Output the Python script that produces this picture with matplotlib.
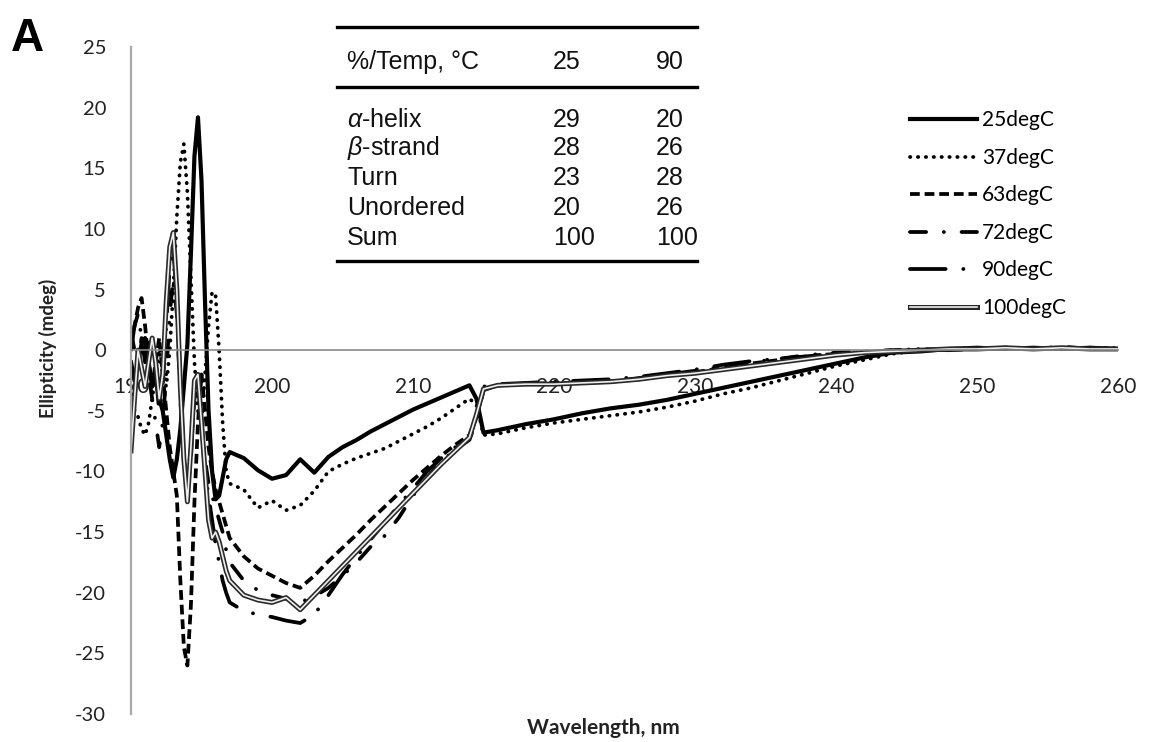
import matplotlib
matplotlib.use("Agg")
import matplotlib.pyplot as plt
import matplotlib.patheffects as pe
from matplotlib.lines import Line2D

plt.rcParams['mathtext.fontset'] = 'custom'
plt.rcParams['mathtext.rm'] = 'Liberation Sans'
plt.rcParams['mathtext.it'] = 'Liberation Sans:italic'
plt.rcParams['axes.unicode_minus'] = False

# wavelength grid (nm), fine near the noisy far-UV end
wavelength = [190, 190.25, 190.5, 190.75, 191, 191.25, 191.5, 191.75,
              192, 192.25, 192.5, 192.75, 193, 193.25, 193.5, 193.75,
              194, 194.25, 194.5, 194.75, 195, 195.25, 195.5, 195.75,
              196, 196.25, 196.5, 196.75, 197,
              198, 199, 200, 201, 202, 203, 204, 205, 206, 207, 208, 209, 210, 211, 212, 213, 214,
              214.5, 215, 216,
              218, 220, 222, 224, 226, 228, 230, 232, 234, 236, 238, 240,
              242, 244, 246, 248, 250, 252, 254, 256, 258, 260]

# ellipticity (mdeg) per temperature
cd_25 = [-1.0, -2.5, -1.0, 0.5, 1.0, -1.0, -3.0, -2.0,
         -4.0, -5.0, -7.0, -9.0, -10.5, -9.0, -6.5, -3.0,
         0.5, 8.0, 16.0, 19.2, 14.0, 4.0, -5.0, -10.0,
         -12.3, -12.0, -10.5, -9.0, -8.4,
         -8.9, -9.9, -10.6, -10.3, -9.0, -10.1, -8.8, -8.0, -7.4, -6.7, -6.1, -5.5, -4.9, -4.4, -3.9, -3.4, -2.9,
         -4.0, -6.8, -6.6,
         -6.1, -5.7, -5.2, -4.8, -4.5, -4.1, -3.6, -3.1, -2.6, -2.1, -1.6, -1.1,
         -0.6, -0.2, -0.1, 0.1, 0.2, 0.1, 0.2, 0.1, 0.2, 0.1]
cd_37 = [-3.0, -5.0, -5.5, -6.5, -7.0, -6.0, -4.0, -2.0,
         0.0, -2.0, -3.0, 0.0, 5.0, 11.0, 15.5, 17.0,
         13.0, 6.0, -1.0, -5.0, -6.0, -2.0, 2.0, 4.8,
         4.5, 0.0, -6.0, -10.0, -11.0,
         -11.5, -13.0, -12.4, -13.2, -12.8, -11.6, -10.0, -9.4, -8.9, -8.5, -8.1, -7.5, -6.9, -6.3, -5.6, -4.8, -4.0,
         -4.5, -7.0, -6.9,
         -6.4, -6.0, -5.7, -5.4, -5.1, -4.7, -4.2, -3.6, -3.1, -2.5, -1.9, -1.3,
         -0.8, -0.3, 0.0, 0.1, 0.2, 0.1, 0.1, 0.2, 0.1, 0.2]
cd_63 = [0.5, 2.0, 3.5, 4.3, 2.0, -1.0, -3.0, -1.0,
         1.0, -2.0, -5.0, -8.0, -10.0, -12.0, -19.0, -24.5,
         -26.0, -21.0, -12.5, -6.0, -2.0, -5.0, -8.0, -10.0,
         -11.5, -12.5, -13.5, -14.5, -15.5,
         -17.0, -18.0, -18.6, -19.2, -19.6, -18.6, -17.4, -16.3, -15.2, -14.0, -12.9, -11.8, -10.7, -9.7, -8.7, -7.8, -7.0,
         -5.5, -3.2, -2.9,
         -2.8, -2.7, -2.7, -2.6, -2.4, -2.1, -1.8, -1.5, -1.1, -0.8, -0.5, -0.3,
         -0.2, -0.1, 0.0, 0.1, 0.1, 0.2, 0.1, 0.1, 0.2, 0.1]
cd_72 = [1.5, 0.0, -1.0, 1.0, 0.5, -2.0, -4.0, -6.0,
         -8.0, -6.0, -2.0, 3.0, 6.0, 3.0, -4.0, -9.0,
         -11.0, -8.0, -4.0, -3.0, -6.0, -9.0, -11.0, -12.0,
         -13.0, -14.0, -15.0, -16.5, -17.5,
         -19.0, -19.8, -20.2, -20.5, -20.8, -20.3, -19.6, -18.6, -17.5, -16.2, -15.3, -13.8, -12.0, -10.5, -9.2, -8.2, -7.4,
         -5.8, -3.3, -2.9,
         -2.8, -2.8, -2.7, -2.6, -2.3, -2.0, -1.7, -1.4, -1.0, -0.7, -0.4, -0.2,
         -0.1, 0.0, 0.1, 0.1, 0.2, 0.1, 0.2, 0.1, 0.1, 0.2]
cd_90 = [0.0, 2.0, 3.0, 1.0, -1.0, 0.5, 1.0, -2.0,
         -5.0, -3.0, 2.0, 7.0, 8.5, 4.0, -3.0, -9.0,
         -12.0, -9.0, -3.0, -2.0, -6.0, -10.0, -12.0, -14.0,
         -16.0, -17.5, -19.0, -20.0, -20.8,
         -21.5, -21.8, -22.0, -22.3, -22.5, -21.8, -20.2, -18.5, -17.0, -15.6, -14.2, -12.8, -11.4, -10.0, -8.9, -8.0, -7.2,
         -5.5, -3.0, -2.8,
         -2.7, -2.6, -2.5, -2.4, -2.2, -1.9, -1.6, -1.2, -0.9, -0.7, -0.5, -0.3,
         -0.2, 0.0, 0.1, 0.0, 0.1, 0.2, 0.1, 0.3, 0.1, 0.1]
cd_100 = [-8.3, -4.0, 0.0, -1.5, -3.0, -1.0, 1.0, -1.0,
          -4.0, -2.0, 4.0, 8.5, 9.7, 5.0, -3.0, -9.0,
          -12.5, -8.0, -2.5, -2.0, -6.0, -10.0, -14.0, -15.5,
          -15.0, -15.8, -17.0, -18.2, -19.0,
          -20.2, -20.6, -20.8, -20.4, -21.4, -20.2, -19.0, -17.8, -16.6, -15.4, -14.2, -13.0, -11.8, -10.6, -9.4, -8.3, -7.2,
          -5.3, -3.2, -2.9,
          -2.8, -2.8, -2.7, -2.6, -2.4, -2.1, -1.9, -1.6, -1.3, -1.0, -0.7, -0.4,
          -0.2, -0.1, 0.0, 0.1, 0.1, 0.2, 0.1, 0.2, 0.1, 0.1]

series_labels = ['25degC', '37degC', '63degC', '72degC', '90degC', '100degC']

# inset table (secondary structure, %)
table_header = ['%/Temp, °C', '25', '90']
table_rows = [r'$\alpha$-helix', r'$\beta$-strand', 'Turn', 'Unordered', 'Sum']
table_25 = ['29', '28', '23', '20', '100']
table_90 = ['20', '26', '28', '26', '100']

W, H = 1163, 742
fx = lambda x: x / W
fy = lambda y: 1 - y / H

fig = plt.figure(figsize=(W / 100, H / 100), dpi=100)
ax = fig.add_axes([fx(131), fy(714), (1118 - 131) / W, (714 - 47) / H])

lw = 2.7
ax.plot(wavelength, cd_25, color='black', lw=3.0, label=series_labels[0])
ax.plot(wavelength, cd_37, color='black', lw=lw, ls=(0, (0.1, 2.0)),
        dash_capstyle='round', label=series_labels[1])
ax.plot(wavelength, cd_63, color='black', lw=lw, ls=(0, (2.6, 1.3)), label=series_labels[2])
ax.plot(wavelength, cd_72, color='black', lw=lw, ls=(0, (4.3, 4.7, 0.05, 4.7)),
        dash_capstyle='round', label=series_labels[3])
ax.plot(wavelength, cd_90, color='black', lw=lw, ls=(0, (9.5, 4.7, 0.05, 4.7)),
        dash_capstyle='round', label=series_labels[4])
ax.plot(wavelength, cd_100, color='#f0f0f0', lw=1.2, label=series_labels[5],
        path_effects=[pe.Stroke(linewidth=3.6, foreground='#2a2a2a'), pe.Normal()])

ax.set_xlim(190, 260)
ax.set_ylim(-30, 25)
ax.set_xticks(range(190, 261, 10))
ax.set_yticks(range(-30, 26, 5))
ax.set_axisbelow(True)
for s in ['top', 'right']:
    ax.spines[s].set_visible(False)
ax.spines['bottom'].set_position(('data', 0))
ax.spines['bottom'].set_color('#8a8a8a')
ax.spines['bottom'].set_linewidth(1.2)
ax.spines['left'].set_color('#a8a8a8')
ax.spines['left'].set_linewidth(1.6)
ax.tick_params(length=0, colors='#222222')
ax.tick_params(axis='x', pad=19)
ax.tick_params(axis='y', pad=18)
for t in ax.get_xticklabels():
    t.set_fontfamily('Lato')
    t.set_fontsize(15)
for t in ax.get_yticklabels():
    t.set_fontfamily('Lato')
    t.set_fontsize(14.5)

fig.text(fx(603), fy(728), 'Wavelength, nm', ha='center', va='center',
         fontsize=15, fontweight='bold', family='Lato', color='#222222')
fig.text(fx(48), fy(348), 'Ellipticity (mdeg)', ha='center', va='center', rotation=90,
         fontsize=13.5, fontweight='bold', family='Lato', color='#222222')
fig.text(fx(27), fy(39), 'A', ha='center', va='center', fontsize=33,
         fontweight='bold', family='Liberation Sans')

ax.legend(loc='upper left', bbox_to_anchor=(fx(900), fy(100)), bbox_transform=fig.transFigure,
          frameon=False, prop={'family': 'Lato', 'size': 15}, handlelength=3.2,
          handletextpad=0.25, labelspacing=0.84, borderpad=0)

# inset table
tx0, tx1 = 337, 697
for y in [27, 87, 261]:
    fig.add_artist(Line2D([fx(tx0), fx(tx1)], [fy(y), fy(y)], transform=fig.transFigure,
                          color='black', lw=2.4))
tprops = dict(fontsize=18, family='Liberation Sans', va='center', color='#111111')
fig.text(fx(347), fy(62), table_header[0], ha='left', **tprops)
fig.text(fx(553), fy(62), table_header[1], ha='left', **tprops)
fig.text(fx(656), fy(62), table_header[2], ha='left', **tprops)
row_y = [120, 148, 178, 208, 238]
for name, a, b, y in zip(table_rows, table_25, table_90, row_y):
    fig.text(fx(347), fy(y), name, ha='left', **tprops)
    fig.text(fx(553), fy(y), a, ha='left', **tprops)
    fig.text(fx(656), fy(y), b, ha='left', **tprops)

fig.savefig('out.png', dpi=100)
